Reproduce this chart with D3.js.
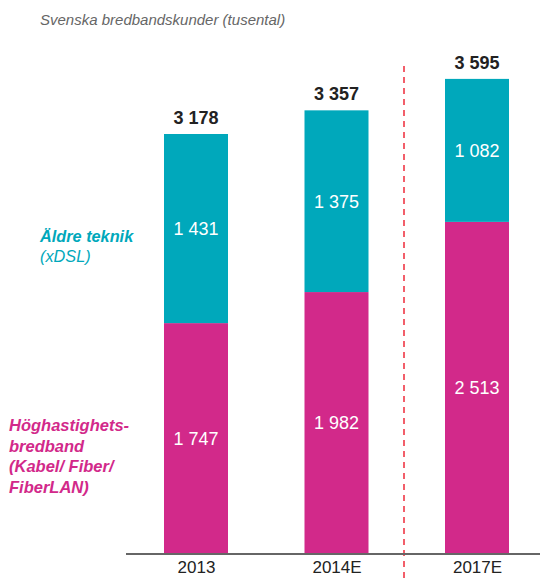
<!DOCTYPE html>
<html>
<head>
<meta charset="utf-8">
<script src="https://cdn.jsdelivr.net/npm/d3@7"></script>
<style>
  body { margin: 0; background: #fff; }
  svg text { font-family: "Liberation Sans", Arial, Helvetica, sans-serif; }
</style>
</head>
<body>
<svg id="chart"></svg>
<script>
// years on the x axis
var years = ["2013", "2014E", "2017E"];
// high speed broadband (bottom, magenta)
var highSpeed = [1747, 1982, 2513];
// older tech xDSL (top, teal)
var xdsl = [1431, 1375, 1082];
// totals shown above bars
var totals = [3178, 3357, 3595];

var setup = {
  width: 540,
  height: 578,
  baseline: 554,
  left: 126,
  barW: 64
};

var colors = { high: "#d2298a", xdsl: "#00a8bb" };

var svg = d3.select("#chart")
  .attr("width", setup.width)
  .attr("height", setup.height);

var x = d3.scalePoint()
  .domain(years)
  .range([196, 477]);

var y = d3.scaleLinear()
  .domain([0, 3178])
  .range([setup.baseline, 134]);

var fmt = function(v) {
  return d3.format(",")(v).replace(/,/g, " ");
};

var data = years.map(function(yr, i) {
  return { year: yr, high: highSpeed[i], xdsl: xdsl[i], total: totals[i] };
});

// title
svg.append("text")
  .attr("x", 40).attr("y", 25)
  .attr("font-size", 15)
  .attr("font-style", "italic")
  .attr("fill", "#666")
  .text("Svenska bredbandskunder (tusental)");

// dashed divider between actual and forecast
svg.append("line")
  .attr("x1", 404).attr("x2", 404)
  .attr("y1", 66).attr("y2", 578)
  .attr("stroke", "#ee2a3a")
  .attr("stroke-width", 1.5)
  .attr("stroke-dasharray", "6,5");

var bars = svg.selectAll("g.bar")
  .data(data)
  .enter().append("g")
  .attr("class", "bar");

bars.append("rect")
  .attr("x", function(d) { return x(d.year) - setup.barW / 2; })
  .attr("width", setup.barW)
  .attr("y", function(d) { return y(d.high); })
  .attr("height", function(d) { return setup.baseline - y(d.high); })
  .attr("fill", colors.high);

bars.append("rect")
  .attr("x", function(d) { return x(d.year) - setup.barW / 2; })
  .attr("width", setup.barW)
  .attr("y", function(d) { return y(d.high + d.xdsl); })
  .attr("height", function(d) { return y(d.high) - y(d.high + d.xdsl); })
  .attr("fill", colors.xdsl);

// inner labels
bars.append("text")
  .attr("x", function(d) { return x(d.year); })
  .attr("y", function(d) { return (y(0) + y(d.high)) / 2; })
  .attr("dy", "0.35em")
  .attr("text-anchor", "middle")
  .attr("font-size", 18)
  .attr("fill", "#fff")
  .text(function(d) { return fmt(d.high); });

bars.append("text")
  .attr("x", function(d) { return x(d.year); })
  .attr("y", function(d) { return (y(d.high) + y(d.high + d.xdsl)) / 2; })
  .attr("dy", "0.35em")
  .attr("text-anchor", "middle")
  .attr("font-size", 18)
  .attr("fill", "#fff")
  .text(function(d) { return fmt(d.xdsl); });

// totals
bars.append("text")
  .attr("x", function(d) { return x(d.year); })
  .attr("y", function(d) { return y(d.total) - 10; })
  .attr("text-anchor", "middle")
  .attr("font-size", 18)
  .attr("font-weight", "bold")
  .attr("fill", "#222")
  .text(function(d) { return fmt(d.total); });

// axis
var xAxis = d3.axisBottom(x).tickSize(0).tickPadding(7);
var ax = svg.append("g")
  .attr("transform", "translate(0," + setup.baseline + ")")
  .call(xAxis);
ax.select(".domain")
  .attr("d", "M" + setup.left + ",0H" + setup.width)
  .attr("stroke", "#666")
  .attr("stroke-width", 2);
ax.selectAll("text")
  .attr("font-size", 17)
  .attr("fill", "#222")
  .style("font-family", "Liberation Sans, Arial, sans-serif");

// legend labels
var teal = svg.append("text")
  .attr("x", 40).attr("y", 242)
  .attr("font-size", 16.3)
  .attr("font-style", "italic")
  .attr("fill", colors.xdsl);
teal.append("tspan").attr("x", 40).attr("font-weight", "bold").text("Äldre teknik");
teal.append("tspan").attr("x", 40).attr("dy", 20).text("(xDSL)");

var mag = svg.append("text")
  .attr("x", 9).attr("y", 431)
  .attr("font-size", 16.5)
  .attr("font-style", "italic")
  .attr("font-weight", "bold")
  .attr("fill", colors.high);
["Höghastighets-", "bredband", "(Kabel/ Fiber/", "FiberLAN)"].forEach(function(t, i) {
  mag.append("tspan").attr("x", 9).attr("dy", i ? 20.5 : 0).text(t);
});
</script>
</body>
</html>
